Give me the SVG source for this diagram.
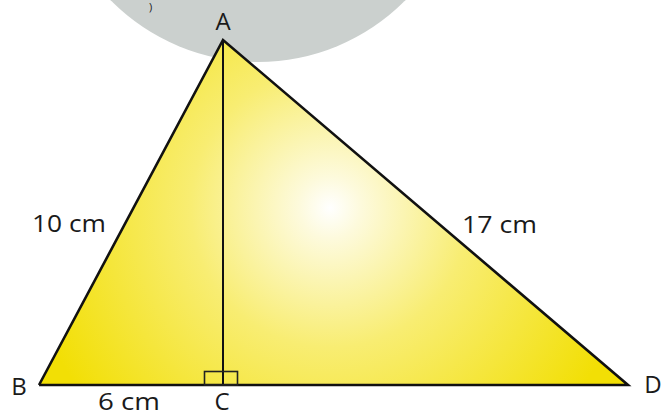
<svg xmlns="http://www.w3.org/2000/svg" width="661" height="416" viewBox="0 0 661 416">
<defs>
<radialGradient id="fillGrad" gradientUnits="userSpaceOnUse" cx="330" cy="208" r="310">
<stop offset="0" stop-color="#ffffff"/>
<stop offset="0.1" stop-color="#fdfadc"/>
<stop offset="0.45" stop-color="#f8ed72"/>
<stop offset="1" stop-color="#f2df05"/>
</radialGradient>
<style>
.lbl{font-family:"Open Sans","Liberation Sans",sans-serif;font-size:24px;fill:#1a1a1a}
.edge{stroke:#111;stroke-width:2.6;fill:none;stroke-linejoin:miter}
.thin{stroke:#222;stroke-width:1.6;fill:none}
</style>
</defs>
<rect width="661" height="416" fill="#ffffff"/>
<circle cx="258" cy="-145" r="207" fill="#cbd0ce"/>
<text x="149" y="11" class="lbl" style="font-size:11px">)</text>
<g id="triangle">
<polygon points="223,40 39,385 628,385" fill="url(#fillGrad)"/>
</g>
<g id="connectors">
<polyline class="edge" points="39,385 223,40 628,385 39,385"/>
<line class="edge" x1="223" y1="40" x2="223" y2="385" style="stroke-width:2"/>
<rect class="thin" x="204.5" y="371.5" width="33" height="13.5"/>
</g>
<g id="A"><text class="lbl" x="223" y="30" text-anchor="middle">A</text></g>
<g id="B"><text class="lbl" x="19" y="395" text-anchor="middle">B</text></g>
<g id="C"><text class="lbl" x="222" y="410" text-anchor="middle">C</text></g>
<g id="D"><text class="lbl" x="653" y="393" text-anchor="middle">D</text></g>
<g id="lbl10"><text class="lbl" x="32" y="232" textLength="74" lengthAdjust="spacingAndGlyphs">10 cm</text></g>
<g id="lbl17"><text class="lbl" x="462" y="233" textLength="75" lengthAdjust="spacingAndGlyphs">17 cm</text></g>
<g id="lbl6"><text class="lbl" x="98" y="410" textLength="62" lengthAdjust="spacingAndGlyphs">6 cm</text></g>
</svg>
